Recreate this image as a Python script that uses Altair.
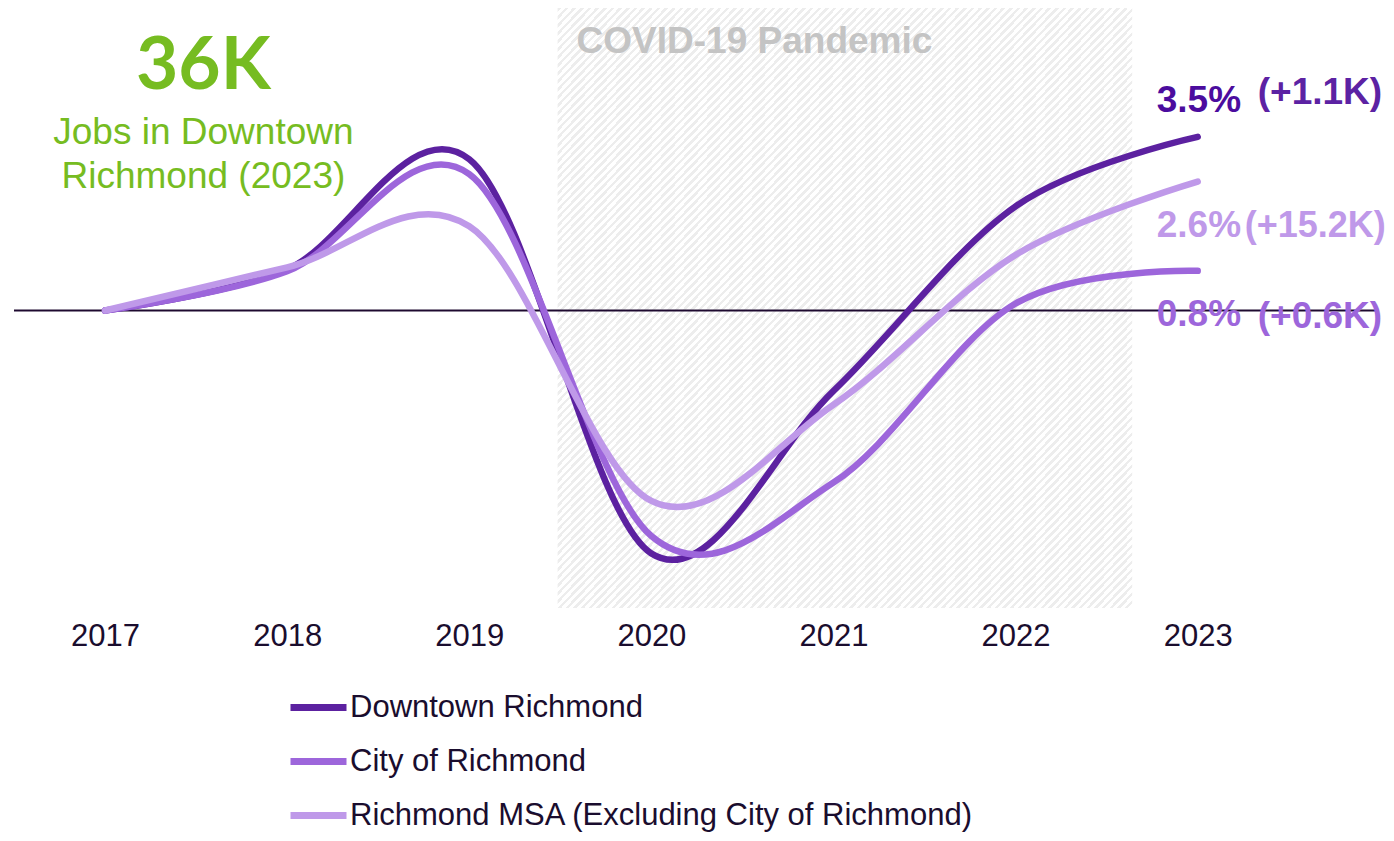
import altair as alt
import pandas as pd

# ---- data ----
years = [2017, 2018, 2019, 2020, 2021, 2022, 2023]
downtown = [0.0, 0.83, 3.05, -4.90, -1.62, 2.10, 3.5]
city = [0.0, 0.79, 2.75, -4.55, -3.47, 0.14, 0.8]
msa = [0.0, 0.87, 1.70, -3.84, -1.90, 1.12, 2.6]

series_names = ["Downtown Richmond", "City of Richmond",
                "Richmond MSA (Excluding City of Richmond)"]
series_colors = ["#5c21a0", "#9d66db", "#bf99e9"]
pct_labels = ["3.5%", "0.8%", "2.6%"]
job_labels = ["(+1.1K)", "(+0.6K)", "(+15.2K)"]
covid_start, covid_end = 2019.485, 2022.64
covid_label = "COVID-19 Pandemic"
headline = "36K"
subtitle = ["Jobs in Downtown", "Richmond (2023)"]

series_vals = [downtown, city, msa]
df = pd.DataFrame([{"year": y, "value": v, "series": name}
                   for name, vals in zip(series_names, series_vals)
                   for y, v in zip(years, vals)])

FONT = "Liberation Sans"
X_MIN, X_MAX = 2016.5, 2023.99
xs = alt.Scale(domain=[X_MIN, X_MAX], nice=False, zero=False)
ys = alt.Scale(domain=[-6, 6.1], nice=False, zero=False)

X = alt.X("year:Q", scale=xs,
          axis=alt.Axis(values=years, format="d", labelFontSize=31,
                        labelFont=FONT, labelColor="#1a0d2e",
                        domain=False, ticks=False, grid=False,
                        labelPadding=13, title=None))
Y = alt.Y("value:Q", scale=ys, axis=None)

# hatch pattern drawn as a striped gradient (styling only)
n = 150
stops = []
for i in range(n):
    a, b, c = i / n, (i + 0.45) / n, (i + 1) / n
    stops += [{"color": "#ededed", "offset": a},
              {"color": "#ededed", "offset": b},
              {"color": "#ffffff", "offset": b},
              {"color": "#ffffff", "offset": c}]
hatch = alt.Gradient(gradient="linear", stops=stops, x1=0, y1=0, x2=1, y2=1)

band_df = pd.DataFrame({"year": [covid_start], "e": [covid_end],
                        "value": [6.1], "bot": [-6.0]})
band = alt.Chart(band_df).mark_rect(fill=hatch).encode(
    x=X, x2="e:Q", y=Y, y2="bot:Q")

covid_df = pd.DataFrame({"year": [covid_start], "value": [5.2], "t": [covid_label]})
covid_text = alt.Chart(covid_df).mark_text(
    align="left", baseline="alphabetic", dx=19, font=FONT, fontSize=37,
    fontWeight="bold", color="#c4c4c4").encode(x=X, y=Y, text="t:N")

zero_df = pd.DataFrame({"year": [X_MIN, X_MAX], "value": [0, 0]})
zero = alt.Chart(zero_df).mark_line(color="#1e0a30", strokeWidth=2).encode(x=X, y=Y)

color = alt.Color("series:N",
                  scale=alt.Scale(domain=series_names, range=series_colors),
                  legend=alt.Legend(orient="none", legendX=273, legendY=668,
                                    direction="vertical", title=None,
                                    symbolType="stroke", symbolSize=3136,
                                    symbolStrokeWidth=7, labelFontSize=31,
                                    labelFont=FONT, labelColor="#1a0d2e",
                                    labelOffset=0, rowPadding=7,
                                    labelLimit=1000))

lines = []
for name in series_names:
    lines.append(alt.Chart(df[df.series == name]).mark_line(
        interpolate="cardinal", tension=0, strokeWidth=6.5, strokeCap="round").encode(
        x=X, y=Y, color=color))

pct_colors = ["#4b0c9e", "#9d66db", "#bf99e9"]
job_colors = ["#5c22a3", "#9d66db", "#bf99e9"]
pct_dy = [-25, 55, 55]
job_dy = [-33, 57, 55]
job_dx = [60, 60, 47]
job_size = [37, 37, 36]
labels = []
for i, name in enumerate(series_names):
    ldf = pd.DataFrame({"year": [years[-1]], "value": [series_vals[i][-1]],
                        "pct": [pct_labels[i]], "jobs": [job_labels[i]]})
    labels.append(alt.Chart(ldf).mark_text(
        align="left", baseline="alphabetic", dx=-41, dy=pct_dy[i], font=FONT,
        fontSize=37, fontWeight="bold", color=pct_colors[i]).encode(
        x=X, y=Y, text="pct:N"))
    labels.append(alt.Chart(ldf).mark_text(
        align="left", baseline="alphabetic", dx=job_dx[i], dy=job_dy[i], font=FONT,
        fontSize=job_size[i], fontWeight="bold", color=job_colors[i]).encode(
        x=X, y=Y, text="jobs:N"))

head_df = pd.DataFrame({"year": [2017.54], "value": [4.46], "t": [headline]})
head = alt.Chart(head_df).mark_text(
    align="center", baseline="alphabetic", font="Lato", fontSize=73,
    fontWeight="bold", color="#76bc21").encode(x=X, y=Y, text="t:N")

sub_df = pd.DataFrame({"year": [2017.54, 2017.54], "value": [3.35, 2.48], "t": subtitle})
sub = alt.Chart(sub_df).mark_text(
    align="center", baseline="alphabetic", font=FONT, fontSize=37,
    color="#76bc21").encode(x=X, y=Y, text="t:N")

chart = alt.layer(band, covid_text, zero, *lines, *labels, head, sub).properties(
    width=1364, height=600,
    autosize=alt.AutoSizeParams(type="none"),
    padding={"left": 6, "top": 0, "right": 8, "bottom": 225},
).configure_view(stroke=None)

chart.save("out.html", embed_options={"renderer": "svg", "actions": False})
